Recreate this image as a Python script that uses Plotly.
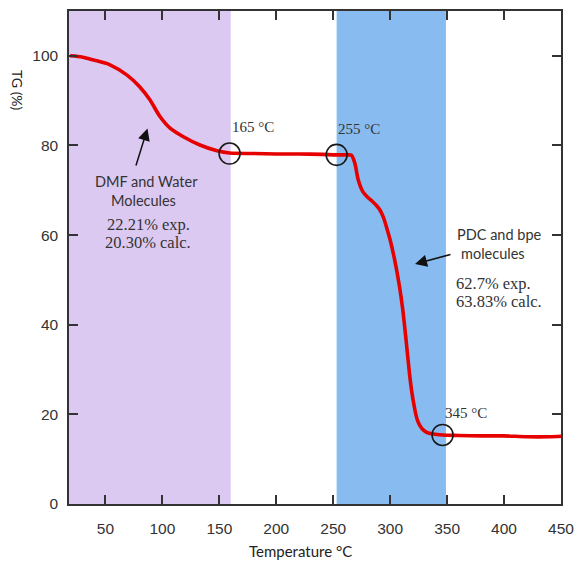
import plotly.graph_objects as go

# ---- data ----
temperature = [19, 30, 39, 54, 69, 80, 89, 98, 107, 118, 133, 148, 159, 180, 200, 220, 240, 253,
               262, 266, 269, 272, 276, 280, 284, 288, 291, 294, 297, 300, 304, 308, 311, 314,
               317, 319, 321, 323, 325, 328, 332, 338, 346, 360, 380, 400, 420, 440, 450]
tg = [100.0, 99.7, 99.1, 98.0, 95.7, 93.1, 90.2, 86.4, 83.8, 82.0, 80.1, 78.8, 78.3, 78.2, 78.1,
      78.1, 78.0, 77.9, 77.9, 77.8, 76.0, 72.3, 69.7, 68.5, 67.6, 66.6, 65.6, 64.0, 61.6, 58.9,
      54.4, 48.8, 43.5, 36.5, 29.0, 25.0, 22.0, 19.5, 18.0, 16.8, 16.0, 15.6, 15.4, 15.3, 15.2,
      15.2, 15.0, 15.0, 15.1]

marker_temps = [159, 253, 346]
marker_tg = [78.2, 77.9, 15.4]
marker_labels = ["165 °C", "255 °C", "345 °C"]

region_start = [18, 253]
region_end = [160, 349]
region_colors = ["#dcc9f2", "#88bcf1"]

x_ticks = [50, 100, 150, 200, 250, 300, 350, 400, 450]
y_ticks = [0, 20, 40, 60, 80, 100]

# ---- layout geometry ----
W, H = 577, 562
L, R, T, B = 69, 16, 11, 58
PW = W - L - R
PH = H - T - B


def px(xp, yp):
    return (xp - L) / PW, (H - B - yp) / PH


fig = go.Figure()

for s, e, c in zip(region_start, region_end, region_colors):
    fig.add_shape(type="rect", xref="x", yref="paper", x0=s, x1=e, y0=0, y1=1,
                  fillcolor=c, line_width=0, layer="below")

fig.add_trace(go.Scatter(x=temperature, y=tg, mode="lines",
                         line=dict(color="#e60000", width=3.6, shape="spline", smoothing=0.8),
                         hoverinfo="skip", showlegend=False))

fig.add_trace(go.Scatter(x=marker_temps, y=marker_tg, mode="markers",
                         marker=dict(symbol="circle-open", size=21, color="#1a1a1a",
                                     line=dict(width=1.6, color="#1a1a1a")),
                         hoverinfo="skip", showlegend=False))

serif_small = dict(family="Liberation Serif", size=15, color="#333333")
serif = dict(family="Liberation Serif", size=16.5, color="#333333")
sans = dict(family="Lato", size=14.5, color="#333333")

annotations = []
label_pos = [(253, 127), (359, 129), (466, 413)]
for lab, (xp, yp) in zip(marker_labels, label_pos):
    ax_, ay_ = px(xp, yp)
    annotations.append(dict(xref="paper", yref="paper", x=ax_, y=ay_, text=lab,
                            showarrow=False, font=serif_small, xanchor="center",
                            yanchor="middle"))

texts = [
    ("DMF and Water", 146, 181, sans, "center"),
    ("Molecules", 143, 200, sans, "center"),
    ("22.21% exp.", 148, 224, serif, "center"),
    ("20.30% calc.", 148, 242, serif, "center"),
    ("PDC and bpe", 455, 234, sans, "left"),
    ("molecules", 459, 253, sans, "left"),
    ("62.7% exp.", 454, 283, serif, "left"),
    ("63.83% calc.", 454, 301, serif, "left"),
]
for t, xp, yp, f, anc in texts:
    ax_, ay_ = px(xp, yp)
    annotations.append(dict(xref="paper", yref="paper", x=ax_, y=ay_, text=t,
                            showarrow=False, font=f, xanchor=anc, yanchor="middle"))

# arrows (tip in paper coords, tail in pixel offsets)
for tip, off in [((147.5, 128.5), (-12, 38.5)), ((415, 264), (37, -10))]:
    ax_, ay_ = px(*tip)
    annotations.append(dict(xref="paper", yref="paper", x=ax_, y=ay_, text="",
                            showarrow=True, ax=off[0], ay=off[1], arrowhead=2,
                            arrowsize=1.6, arrowwidth=1.5, arrowcolor="#111111"))

# axis titles
ax_, ay_ = px(18, 90)
annotations.append(dict(xref="paper", yref="paper", x=ax_, y=ay_, text="TG (%)",
                        showarrow=False, textangle=90, xanchor="center", yanchor="middle",
                        font=dict(family="Lato", size=14, color="#222222")))
ax_, ay_ = px(300, 551)
annotations.append(dict(xref="paper", yref="paper", x=ax_, y=ay_, text="Temperature °C",
                        showarrow=False, xanchor="center", yanchor="middle",
                        font=dict(family="Lato", size=15, color="#222222")))

fig.update_layout(
    width=W, height=H,
    margin=dict(l=L, r=R, t=T, b=B, autoexpand=False),
    paper_bgcolor="white", plot_bgcolor="white",
    annotations=annotations,
    showlegend=False,
)

axis_common = dict(showgrid=False, zeroline=False, showline=True, linecolor="#333333",
                   linewidth=1.5, mirror="ticks", ticks="inside", ticklen=9, tickwidth=1.5,
                   tickcolor="#333333", automargin=False,
                   tickfont=dict(family="Liberation Sans", size=15.5, color="#333333"))

fig.update_xaxes(range=[18, 450], tickvals=x_ticks, ticklabelstandoff=10, **axis_common)
fig.update_yaxes(range=[0, 110], tickvals=y_ticks, ticklabelstandoff=6, **axis_common)

fig.write_html("out.html", config={"displayModeBar": False},
               post_script="document.body.style.margin='0';document.body.style.overflow='hidden';")
